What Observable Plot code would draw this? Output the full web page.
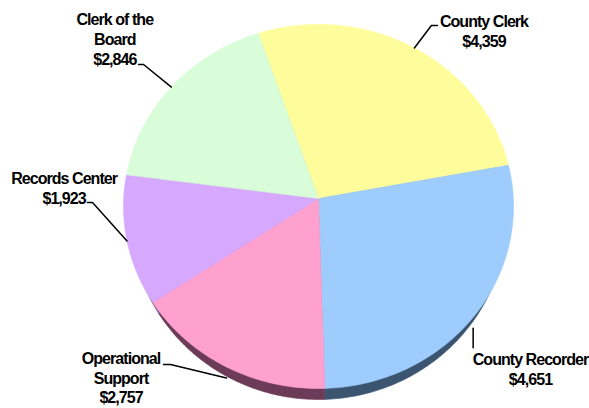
<!DOCTYPE html>
<html><head><meta charset="utf-8">
<script src="https://cdn.jsdelivr.net/npm/d3@7"></script>
<script src="https://cdn.jsdelivr.net/npm/@observablehq/plot@0.6"></script>
<style>body{margin:0;background:#fff}#chart{width:589px;height:408px}</style>
</head><body><div id="chart"></div>
<script>
// ---- data ----
const categories = ["County Clerk", "County Recorder", "Operational Support", "Records Center", "Clerk of the Board"];
const labelNames = ["County Clerk", "County Recorder", "Operational\nSupport", "Records Center", "Clerk of the\nBoard"];
const values = [4359, 4651, 2757, 1923, 2846];

// ---- styles ----
const topColors = ["#FFFD9B", "#9DCCFD", "#FFA1CF", "#D6A9FE", "#D8FDD8"];
const sideColors = ["#8A8850", "#3B5470", "#6C3B57", "#7D6199", "#6E8A6E"];

// ---- layout (normalized pie units; angles in degrees clockwise from 12 o'clock) ----
const startDeg = -18;
const apexLift = 0.044;   // perspective: apex sits slightly above ellipse centre
const depth = 0.0604;     // thickness of the 3D pie
const baseNarrow = 0.965; // perspective: underside slightly narrower
const labelTurn = [11.76, 1.88, 19.05, 15.56, 0.5];
const labelReach = [1.288, 1.407, 1.380, 1.309, 1.395];
const elbowTurn = [0.75, 7.0, 13.0, 12.0, 0.0];
const elbowReach = [1.151, 1.107, 1.153, 1.159, 1.189];
const stubLen = [0.031, 0, 0.036, 0.026, 0.026];

const rows = categories.map((c, i) => ({cat: c, value: values[i], i}));
const rad = Math.PI / 180;
const pie = d3.pie().sort(null).value(d => d.value)
  .startAngle(startDeg * rad).endAngle((startDeg + 360) * rad);
const arcs = pie(rows);

const polar = (t, r, drop = 0, sx = 1) => ({x: sx * r * Math.sin(t), y: r * Math.cos(t) - drop});

function sector(a, drop, sx) {
  const pts = [];
  const apex = {x: 0, y: apexLift - drop};
  pts.push(apex);
  const n = Math.max(8, Math.ceil((a.endAngle - a.startAngle) / rad));
  for (let k = 0; k <= n; k++) {
    const t = a.startAngle + (a.endAngle - a.startAngle) * k / n;
    pts.push(polar(t, 1, drop, sx));
  }
  pts.push(apex);
  return pts.map(p => ({...p, cat: a.data.cat}));
}

const topPts = arcs.flatMap(a => sector(a, 0, 1));
const sideMarks = arcs.map((a, i) => Plot.line(sector(a, depth, baseNarrow), {
  x: "x", y: "y", fill: sideColors[i], stroke: sideColors[i], strokeWidth: 0.6
}));

const fmt = d3.format("$,");
const labels = [];
const leaders = [];
arcs.forEach((a, i) => {
  const mid = (a.startAngle + a.endAngle) / 2;
  const drop = Math.cos(mid) < -0.5 ? depth : 0;
  const start = polar(mid, 1, drop);
  const lab = polar(mid + labelTurn[i] * rad, labelReach[i]);
  const elbow = polar(mid + elbowTurn[i] * rad, elbowReach[i]);
  if (stubLen[i] === 0) elbow.x = start.x;
  const dir = Math.sign(lab.x - elbow.x);
  const stub = {x: elbow.x + dir * stubLen[i], y: elbow.y};
  [start, elbow, stub].forEach(p => leaders.push({...p, cat: a.data.cat}));
  labels.push({...lab, text: labelNames[i] + "\n" + fmt(a.data.value)});
});

const chart = Plot.plot({
  width: 589,
  height: 408,
  margin: 0,
  x: {domain: [-1, 1], range: [123, 513], axis: null},
  y: {domain: [-1, 1], range: [388, 24], axis: null},
  color: {domain: categories, range: topColors},
  style: {background: "white", letterSpacing: "-0.95px"},
  marks: [
    ...sideMarks,
    Plot.line(topPts, {x: "x", y: "y", z: "cat", fill: "cat", stroke: "cat", strokeWidth: 0.6}),
    Plot.line(leaders, {x: "x", y: "y", z: "cat", stroke: "black", strokeWidth: 1.5}),
    Plot.text(labels, {
      x: "x", y: "y", text: "text",
      fontFamily: "Liberation Sans, Arial, sans-serif",
      fontWeight: "bold", fontSize: 16, lineHeight: 1.25,
      lineAnchor: "middle", textAnchor: "middle", fill: "black"
    })
  ]
});
document.getElementById("chart").appendChild(chart);
</script>
</body></html>
